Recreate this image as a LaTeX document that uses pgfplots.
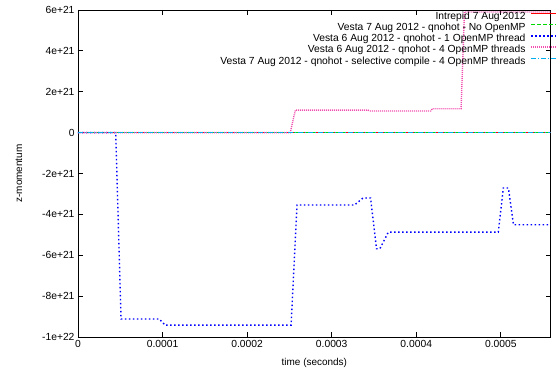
\documentclass[border=0pt]{standalone}
\usepackage{fontspec}
\setmainfont{Liberation Sans}
\usepackage{pgfplots}
\pgfplotsset{compat=1.18}
\begin{document}
\begin{tikzpicture}
\begin{axis}[
  at={(0,0)}, anchor=south west,
  scale only axis, width=472.7bp, height=327bp,
  xmin=0, xmax=0.000559, ymin=-1e22, ymax=6e21,
  axis line style={line width=0.9bp},
  tick align=inside, major tick length=5bp,
  tick style={line width=0.8bp, black},
  xtick={0,0.0001,0.0002,0.0003,0.0004,0.0005},
  xticklabels={0,0.0001,0.0002,0.0003,0.0004,0.0005},
  ytick={-1e22,-8e21,-6e21,-4e21,-2e21,0,2e21,4e21,6e21},
  yticklabels={-1e+22,-8e+21,-6e+21,-4e+21,-2e+21,0,2e+21,4e+21,6e+21},
  scaled x ticks=false, scaled y ticks=false,
  ticklabel style={font=\fontsize{10.3bp}{12bp}\selectfont},
  label style={font=\fontsize{10.3bp}{12bp}\selectfont},
  every axis x label/.style={at={(axis description cs:0.5,0)}, yshift=-26bp, anchor=center},
  every axis y label/.style={at={(axis description cs:0,0.5)}, xshift=-59bp, rotate=90, anchor=center},
  xlabel={time (seconds)}, ylabel={z-momentum},
  legend cell align=right,
  legend plot pos=right,
  legend style={draw=none, fill=none, at={(1,1)}, anchor=north east, xshift=6.3bp, yshift=-1.5bp,
    inner sep=0pt, outer sep=0pt, row sep=0pt, column sep=5bp,
    font=\fontsize{10.3bp}{12bp}\selectfont,
    nodes={inner sep=0pt, text height=7.7bp, text depth=3.55bp}},
  legend image code/.code={\draw[#1] (0bp,3.7bp) -- (25bp,3.7bp);},
  clip=true,
]
\addplot[red, line width=1.5bp] coordinates {(0,0) (0.000559,0)};
\addlegendentry{Intrepid 7 Aug 2012}
\addplot[green!85!black, line width=1.5bp, dash pattern=on 4bp off 2bp] coordinates {(0,0) (0.000559,0)};
\addlegendentry{Vesta 7 Aug 2012 - qnohot - No OpenMP}
\addplot[blue, line width=1.4bp, dash pattern=on 1.5bp off 2.5bp] coordinates {
(0,0) (0.0000446,0) (0.0000509,-9.12e21) (0.0000962,-9.12e21) (0.000103,-9.42e21)
(0.000252,-9.42e21) (0.000259,-3.54e21) (0.000327,-3.54e21) (0.000337,-3.2e21)
(0.000346,-3.2e21) (0.000353,-5.68e21) (0.000357,-5.68e21) (0.000367,-4.87e21)
(0.000497,-4.87e21) (0.000503,-2.71e21) (0.000509,-2.71e21) (0.000515,-4.51e21)
(0.000559,-4.51e21)};
\addlegendentry{Vesta 6 Aug 2012 - qnohot - 1 OpenMP thread}
\addplot[magenta!70!white, line width=1.4bp, dash pattern=on 1bp off 1bp] coordinates {
(0,0) (0.000251,0) (0.000257,1.1e21) (0.000343,1.1e21) (0.000345,1.06e21)
(0.000417,1.06e21) (0.000419,1.17e21) (0.000453,1.17e21) (0.000457,5.9e21)
(0.000559,5.9e21)};
\addlegendentry{Vesta 6 Aug 2012 - qnohot - 4 OpenMP threads}
\addplot[cyan, line width=1.5bp, dash pattern=on 5bp off 2bp on 1bp off 2bp] coordinates {(0,0) (0.000559,0)};
\addlegendentry{Vesta 7 Aug 2012 - qnohot - selective compile - 4 OpenMP threads}
\end{axis}
\pgfresetboundingbox
\path (-78bp,-42bp) rectangle (479bp,337bp);
\end{tikzpicture}
\end{document}
